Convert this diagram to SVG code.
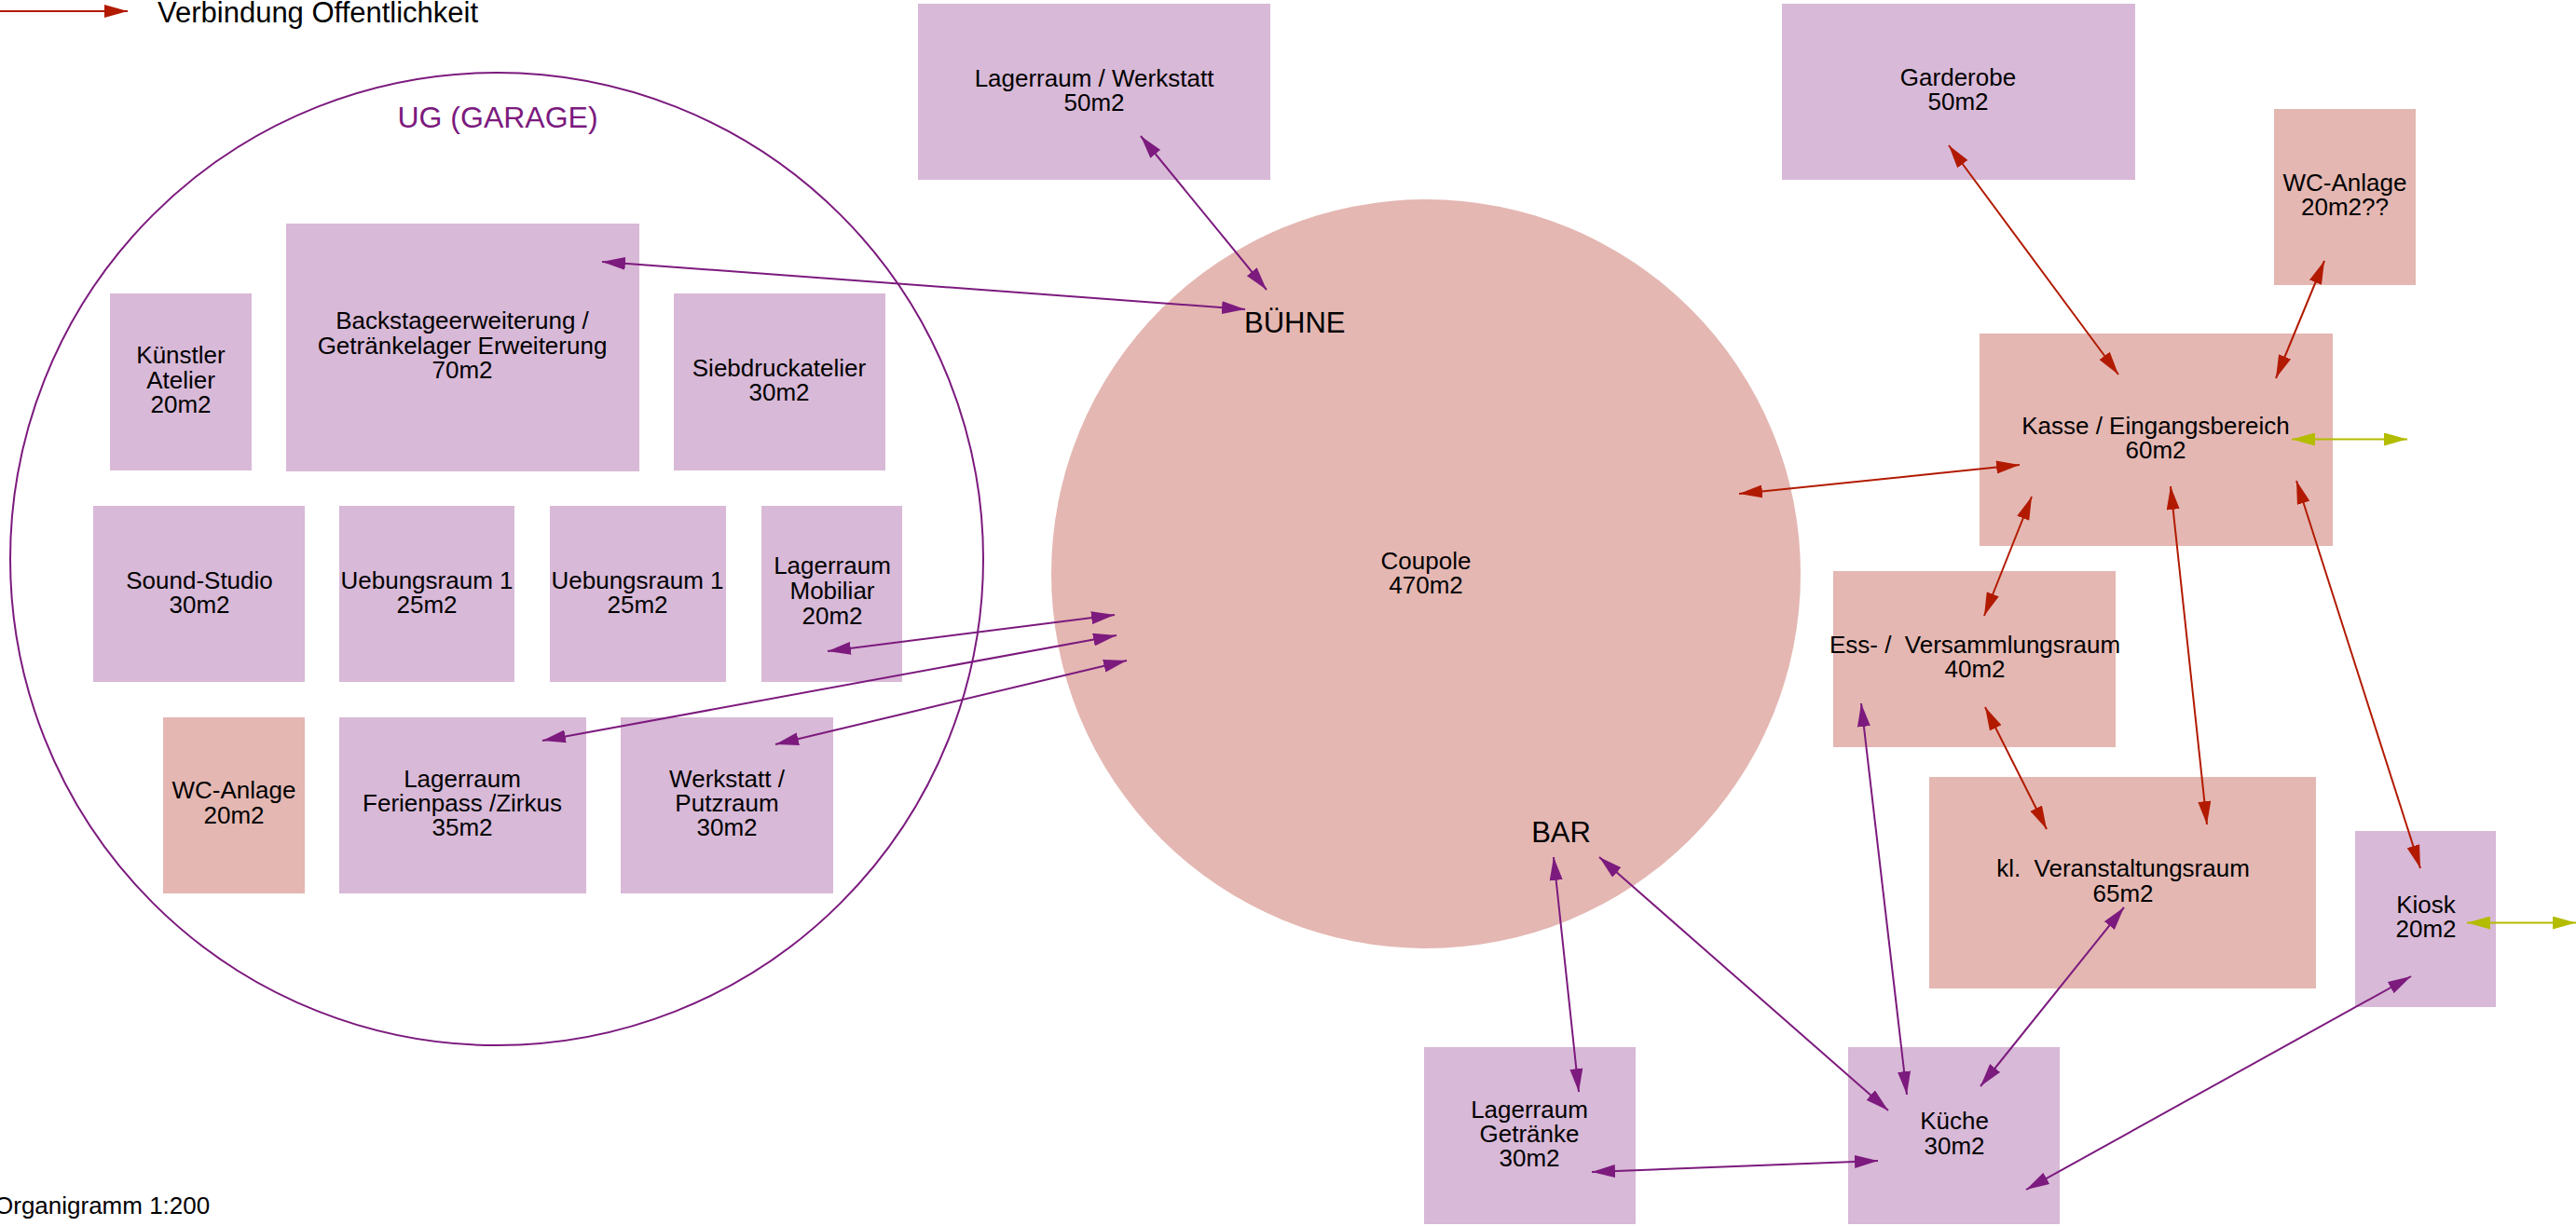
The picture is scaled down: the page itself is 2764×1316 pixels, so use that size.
<svg xmlns="http://www.w3.org/2000/svg" width="2764" height="1316" viewBox="0 0 2764 1316">
<style>
text{font-family:"Liberation Sans",Arial,sans-serif;font-size:26px;fill:#000;text-anchor:middle}
.pu{fill:#d8b9d7}
.pk{fill:#e4b7b2}
.big{font-size:31px}
.cp{stroke:#7c1a7e;stroke-width:2;fill:none}
.cr{stroke:#b21a00;stroke-width:2;fill:none}
.cy{stroke:#b4bc00;stroke-width:2;fill:none}
.pre{white-space:pre}
</style>
<defs>
<marker id="pe" markerUnits="userSpaceOnUse" markerWidth="25" markerHeight="14" refX="25" refY="7" orient="auto"><path d="M0,0L25,7L0,14z" fill="#7c1a7e"/></marker>
<marker id="ps" markerUnits="userSpaceOnUse" markerWidth="25" markerHeight="14" refX="0" refY="7" orient="auto"><path d="M0,7L25,0L25,14z" fill="#7c1a7e"/></marker>
<marker id="re" markerUnits="userSpaceOnUse" markerWidth="25" markerHeight="14" refX="25" refY="7" orient="auto"><path d="M0,0L25,7L0,14z" fill="#b21a00"/></marker>
<marker id="rs" markerUnits="userSpaceOnUse" markerWidth="25" markerHeight="14" refX="0" refY="7" orient="auto"><path d="M0,7L25,0L25,14z" fill="#b21a00"/></marker>
<marker id="ye" markerUnits="userSpaceOnUse" markerWidth="25" markerHeight="14" refX="25" refY="7" orient="auto"><path d="M0,0L25,7L0,14z" fill="#b4bc00"/></marker>
<marker id="ys" markerUnits="userSpaceOnUse" markerWidth="25" markerHeight="14" refX="0" refY="7" orient="auto"><path d="M0,7L25,0L25,14z" fill="#b4bc00"/></marker>
</defs>
<rect width="2764" height="1316" fill="#fff"/>

<g id="legend">
<line class="cr" x1="0" y1="12" x2="137" y2="12" marker-end="url(#re)"/>
<text x="169" y="24" style="font-size:31px;text-anchor:start">Verbindung Offentlichkeit</text>
</g>
<g id="title"><text x="-6" y="1303" style="text-anchor:start">Organigramm 1:200</text></g>

<g id="garage">
<circle cx="533" cy="600" r="522" fill="none" stroke="#7c1a7e" stroke-width="2"/>
<text x="534" y="137" style="font-size:32px;fill:#7c1a7e">UG (GARAGE)</text>
</g>

<g id="coupole">
<circle cx="1530" cy="616" r="402" class="pk"/>
<text x="1530" y="611"><tspan x="1530">Coupole</tspan><tspan x="1530" dy="25.5">470m2</tspan></text>
</g>
<g id="buehne"><text class="big" x="1335" y="357" style="text-anchor:start">BÜHNE</text></g>
<g id="bar"><text class="big" x="1675" y="904">BAR</text></g>

<g id="kuenstler"><rect class="pu" x="118" y="315" width="152" height="190"/><text y="390"><tspan x="194">Künstler</tspan><tspan x="194" dy="26.5">Atelier</tspan><tspan x="194" dy="26.5">20m2</tspan></text></g>
<g id="backstage"><rect class="pu" x="307" y="240" width="379" height="266"/><text y="353"><tspan x="496">Backstageerweiterung /</tspan><tspan x="496" dy="26.5">Getränkelager Erweiterung</tspan><tspan x="496" dy="26.5">70m2</tspan></text></g>
<g id="siebdruck"><rect class="pu" x="723" y="315" width="227" height="190"/><text y="404"><tspan x="836">Siebdruckatelier</tspan><tspan x="836" dy="26">30m2</tspan></text></g>
<g id="sound"><rect class="pu" x="100" y="543" width="227" height="189"/><text y="632"><tspan x="214">Sound-Studio</tspan><tspan x="214" dy="26">30m2</tspan></text></g>
<g id="uebung1"><rect class="pu" x="364" y="543" width="188" height="189"/><text y="632"><tspan x="458">Uebungsraum 1</tspan><tspan x="458" dy="26">25m2</tspan></text></g>
<g id="uebung2"><rect class="pu" x="590" y="543" width="189" height="189"/><text y="632"><tspan x="684">Uebungsraum 1</tspan><tspan x="684" dy="26">25m2</tspan></text></g>
<g id="mobiliar"><rect class="pu" x="817" y="543" width="151" height="189"/><text y="616"><tspan x="893">Lagerraum</tspan><tspan x="893" dy="27">Mobiliar</tspan><tspan x="893" dy="27">20m2</tspan></text></g>
<g id="wc-ug"><rect class="pk" x="175" y="770" width="152" height="189"/><text y="857"><tspan x="251">WC-Anlage</tspan><tspan x="251" dy="27">20m2</tspan></text></g>
<g id="ferienpass"><rect class="pu" x="364" y="770" width="265" height="189"/><text y="845"><tspan x="496">Lagerraum</tspan><tspan x="496" dy="26">Ferienpass /Zirkus</tspan><tspan x="496" dy="26">35m2</tspan></text></g>
<g id="werkstatt-ug"><rect class="pu" x="666" y="770" width="228" height="189"/><text y="845"><tspan x="780">Werkstatt /</tspan><tspan x="780" dy="26">Putzraum</tspan><tspan x="780" dy="26">30m2</tspan></text></g>

<g id="lager-werkstatt"><rect class="pu" x="985" y="4" width="378" height="189"/><text y="93"><tspan x="1174">Lagerraum / Werkstatt</tspan><tspan x="1174" dy="26">50m2</tspan></text></g>
<g id="garderobe"><rect class="pu" x="1912" y="4" width="379" height="189"/><text y="92"><tspan x="2101">Garderobe</tspan><tspan x="2101" dy="26">50m2</tspan></text></g>
<g id="wc-oben"><rect class="pk" x="2440" y="117" width="152" height="189"/><text y="205"><tspan x="2516">WC-Anlage</tspan><tspan x="2516" dy="26">20m2??</tspan></text></g>
<g id="kasse"><rect class="pk" x="2124" y="358" width="379" height="228"/><text y="466"><tspan x="2313">Kasse / Eingangsbereich</tspan><tspan x="2313" dy="26">60m2</tspan></text></g>
<g id="ess"><rect class="pk" x="1967" y="613" width="303" height="189"/><text class="pre" y="701"><tspan x="2119">Ess- /  Versammlungsraum</tspan><tspan x="2119" dy="26">40m2</tspan></text></g>
<g id="kl-veranstaltung"><rect class="pk" x="2070" y="834" width="415" height="227"/><text class="pre" y="941"><tspan x="2278">kl.  Veranstaltungsraum</tspan><tspan x="2278" dy="27">65m2</tspan></text></g>
<g id="kiosk"><rect class="pu" x="2527" y="892" width="151" height="189"/><text y="980"><tspan x="2603">Kiosk</tspan><tspan x="2603" dy="26">20m2</tspan></text></g>
<g id="kueche"><rect class="pu" x="1983" y="1124" width="227" height="190"/><text y="1212"><tspan x="2097">Küche</tspan><tspan x="2097" dy="27">30m2</tspan></text></g>
<g id="lager-getraenke"><rect class="pu" x="1528" y="1124" width="227" height="190"/><text y="1200"><tspan x="1641">Lagerraum</tspan><tspan x="1641" dy="26">Getränke</tspan><tspan x="1641" dy="26">30m2</tspan></text></g>

<g id="connectors">
<line class="cp" x1="1224" y1="146" x2="1359" y2="311" marker-start="url(#ps)" marker-end="url(#pe)"/>
<line class="cp" x1="646" y1="281" x2="1336" y2="332" marker-start="url(#ps)" marker-end="url(#pe)"/>
<line class="cp" x1="888" y1="699" x2="1196" y2="660" marker-start="url(#ps)" marker-end="url(#pe)"/>
<line class="cp" x1="582" y1="795" x2="1198" y2="682" marker-start="url(#ps)" marker-end="url(#pe)"/>
<line class="cp" x1="832" y1="799" x2="1209" y2="709" marker-start="url(#ps)" marker-end="url(#pe)"/>
<line class="cr" x1="1866" y1="530" x2="2167" y2="499" marker-start="url(#rs)" marker-end="url(#re)"/>
<line class="cr" x1="2091" y1="156" x2="2273" y2="402" marker-start="url(#rs)" marker-end="url(#re)"/>
<line class="cr" x1="2494" y1="280" x2="2442" y2="406" marker-start="url(#rs)" marker-end="url(#re)"/>
<line class="cy" x1="2459" y1="471.5" x2="2583" y2="471.5" marker-start="url(#ys)" marker-end="url(#ye)"/>
<line class="cr" x1="2180" y1="533" x2="2129" y2="661" marker-start="url(#rs)" marker-end="url(#re)"/>
<line class="cr" x1="2329" y1="522" x2="2368" y2="885" marker-start="url(#rs)" marker-end="url(#re)"/>
<line class="cr" x1="2464" y1="516" x2="2597" y2="932" marker-start="url(#rs)" marker-end="url(#re)"/>
<line class="cr" x1="2130" y1="759" x2="2196" y2="890" marker-start="url(#rs)" marker-end="url(#re)"/>
<line class="cp" x1="1997" y1="755" x2="2046" y2="1175" marker-start="url(#ps)" marker-end="url(#pe)"/>
<line class="cp" x1="2279" y1="974" x2="2125" y2="1166" marker-start="url(#ps)" marker-end="url(#pe)"/>
<line class="cp" x1="2587" y1="1048" x2="2174" y2="1277" marker-start="url(#ps)" marker-end="url(#pe)"/>
<line class="cy" x1="2647" y1="990.5" x2="2764" y2="990.5" marker-start="url(#ys)" marker-end="url(#ye)"/>
<line class="cp" x1="1667" y1="920" x2="1694" y2="1172" marker-start="url(#ps)" marker-end="url(#pe)"/>
<line class="cp" x1="1716" y1="920" x2="2026" y2="1192" marker-start="url(#ps)" marker-end="url(#pe)"/>
<line class="cp" x1="1708" y1="1258" x2="2015" y2="1246" marker-start="url(#ps)" marker-end="url(#pe)"/>
</g>
</svg>
